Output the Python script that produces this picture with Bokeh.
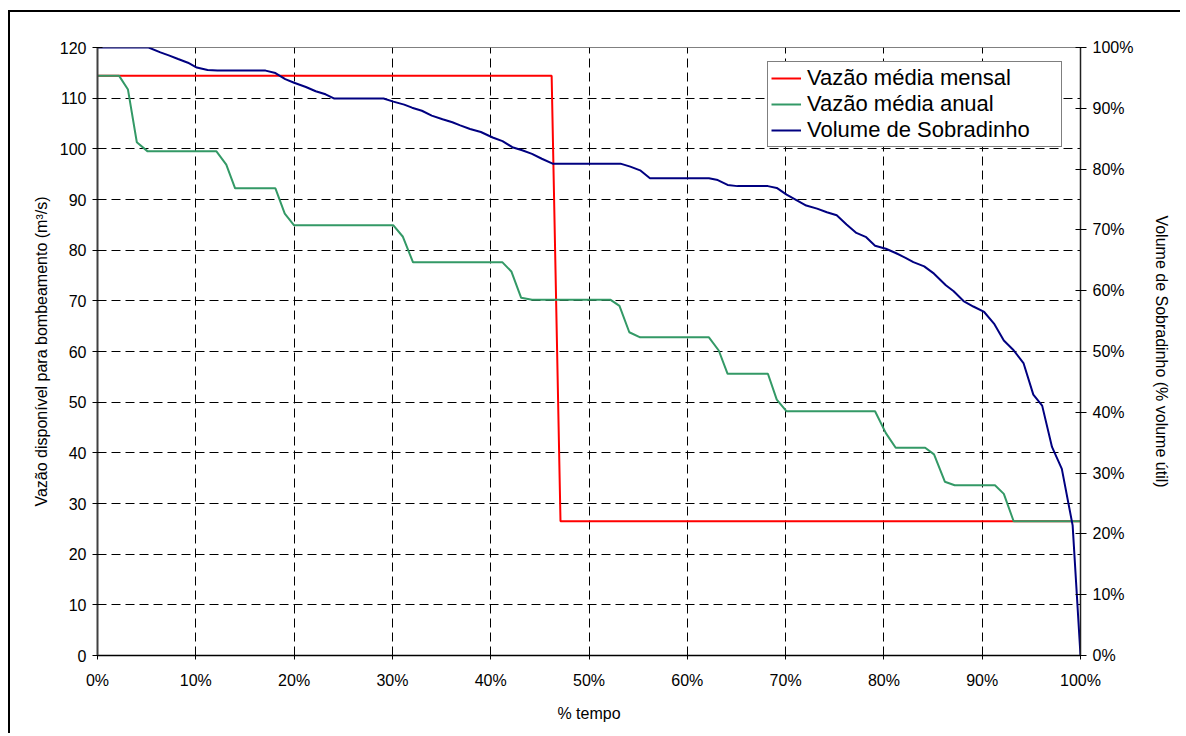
from bokeh.plotting import figure
from bokeh.models import (Range1d, LinearAxis, FixedTicker, PrintfTickFormatter,
                          Legend, LegendItem)
from bokeh.embed import file_html
from bokeh.resources import INLINE

# ---- data ----
tempo_mensal = [0, 46.2, 47.1, 100]
vazao_mensal = [114.4, 114.4, 26.5, 26.5]

tempo_anual = [0, 2.2, 3.1, 4.0, 5.1, 12.1, 13.1, 14.0, 18.1, 19.05,
               20.0, 30.1, 31.05, 32.1, 41.2, 42.1, 43.1, 44.2, 52.2, 53.1,
               54.1, 55.2, 62.2, 63.2, 64.1, 68.2, 69.1, 70.1, 79.1, 80.2,
               81.2, 84.2, 85.1, 86.2, 87.2, 91.3, 92.2, 93.2, 100]
vazao_anual = [114.4, 114.4, 111.7, 101.3, 99.5, 99.5, 96.9, 92.2, 92.2, 87.2,
               84.9, 84.9, 82.7, 77.6, 77.6, 75.8, 70.6, 70.2, 70.2, 69.0,
               63.8, 62.8, 62.8, 60.2, 55.6, 55.6, 50.5, 48.2, 48.2, 43.9,
               41.0, 41.0, 39.7, 34.3, 33.6, 33.6, 31.9, 26.5, 26.5]

tempo_volume = [0, 5.2, 6.4, 7.25, 8.2, 9.2, 10.1, 11.2, 12.2, 17.1,
                18.1, 19.1, 20.0, 21.2, 22.2, 23.2, 24.1, 29.1, 30.1, 31.2,
                32.0, 33.0, 34.0, 35.1, 36.1, 36.9, 37.9, 39.0, 40.2, 41.2,
                42.2, 43.2, 44.2, 45.2, 46.3, 53.2, 54.2, 55.2, 56.2, 62.2,
                63.1, 64.1, 65.1, 68.2, 69.1, 70.1, 71.1, 72.1, 73.2, 74.2,
                75.2, 76.2, 77.2, 78.2, 79.1, 80.2, 81.2, 82.2, 83.0, 84.1,
                85.1, 86.3, 87.1, 88.1, 89.1, 90.2, 91.2, 92.2, 93.2, 94.2,
                95.2, 96.1, 97.1, 98.1, 99.2, 100]
volume = [100, 100, 99.2, 98.7, 98.1, 97.5, 96.7, 96.3, 96.2, 96.2,
          95.8, 94.8, 94.2, 93.5, 92.8, 92.3, 91.6, 91.6, 91.1, 90.6,
          90.1, 89.6, 88.8, 88.2, 87.7, 87.2, 86.6, 86.1, 85.2, 84.6,
          83.6, 83.1, 82.5, 81.7, 80.9, 80.9, 80.4, 79.8, 78.5, 78.5,
          78.2, 77.4, 77.2, 77.2, 76.9, 75.8, 74.9, 74.0, 73.5, 72.9,
          72.4, 70.9, 69.5, 68.8, 67.4, 66.9, 66.2, 65.4, 64.7, 64.0,
          62.8, 60.9, 59.9, 58.3, 57.4, 56.5, 54.6, 51.8, 50.2, 48.1,
          42.9, 41.1, 34.3, 30.7, 21.4, 0]

x_ticks = list(range(0, 101, 10))
y_ticks = list(range(0, 121, 10))
y2_ticks = list(range(0, 101, 10))

labels = ["Vazão média mensal", "Vazão média anual", "Volume de Sobradinho"]
colors = ["#FF0000", "#339966", "#000080"]

FONT = "Liberation Sans"

p = figure(frame_width=983, frame_height=608,
           x_range=Range1d(0, 100), y_range=Range1d(0, 120),
           output_backend="svg", toolbar_location=None,
           min_border_left=87, min_border_top=35,
           min_border_right=100, min_border_bottom=78,
           background_fill_color="white", border_fill_color="white")
p.styles = {"margin-left": "8px", "margin-top": "10px",
            "border-left": "2px solid black", "border-top": "2px solid black"}

p.extra_y_ranges = {"vol": Range1d(0, 100)}

p.outline_line_color = "#808080"
p.outline_line_width = 1

# axes styling
p.xaxis.ticker = FixedTicker(ticks=x_ticks)
p.xaxis.formatter = PrintfTickFormatter(format="%d%%")
p.yaxis.ticker = FixedTicker(ticks=y_ticks)

for ax in (p.xaxis[0], p.yaxis[0]):
    ax.major_label_text_font = FONT
    ax.major_label_text_font_size = "16px"
    ax.major_label_text_color = "black"
    ax.axis_label_text_font = FONT
    ax.axis_label_text_font_size = "16px"
    ax.axis_label_text_font_style = "normal"
    ax.axis_label_text_color = "black"
    ax.minor_tick_line_color = None
    ax.major_tick_line_color = "black"

p.xaxis.axis_label = "% tempo"
p.xaxis.axis_line_color = "black"
p.xaxis.axis_line_width = 1.5
p.xaxis.major_tick_in = 4
p.xaxis.major_tick_out = 4
p.xaxis.major_label_standoff = 12
p.xaxis.axis_label_standoff = 13

p.yaxis.axis_label = "Vazão disponível para bombeamento (m³/s)"
p.yaxis.axis_line_color = "#404040"
p.yaxis.axis_line_width = 2
p.yaxis.major_tick_in = 5
p.yaxis.major_tick_out = 5
p.yaxis.major_label_standoff = 6
p.yaxis.axis_label_standoff = 7

ax2 = LinearAxis(y_range_name="vol", ticker=FixedTicker(ticks=y2_ticks),
                 formatter=PrintfTickFormatter(format="%d%%"),
                 axis_label="Volume de Sobradinho (% volume útil)")
ax2.major_label_text_font = FONT
ax2.major_label_text_font_size = "16px"
ax2.major_label_text_color = "black"
ax2.axis_label_text_font = FONT
ax2.axis_label_text_font_size = "16px"
ax2.axis_label_text_font_style = "normal"
ax2.axis_label_text_color = "black"
ax2.minor_tick_line_color = None
ax2.major_tick_line_color = "black"
ax2.axis_line_color = "#202020"
ax2.axis_line_width = 1.5
ax2.major_tick_in = 5
ax2.major_tick_out = 6
ax2.major_label_standoff = 6
ax2.axis_label_standoff = 17
p.add_layout(ax2, "right")

# grids
p.xgrid.ticker = FixedTicker(ticks=x_ticks)
p.ygrid.ticker = FixedTicker(ticks=y_ticks)
for g in (p.xgrid[0], p.ygrid[0]):
    g.grid_line_color = "black"
    g.grid_line_dash = "9 5"
    g.grid_line_width = 1

# lines
r1 = p.line(tempo_mensal, vazao_mensal, line_color=colors[0], line_width=2)
r2 = p.line(tempo_anual, vazao_anual, line_color=colors[1], line_width=2)
r3 = p.line(tempo_volume, volume, line_color=colors[2], line_width=2,
            y_range_name="vol")

legend = Legend(items=[LegendItem(label=labels[0], renderers=[r1]),
                       LegendItem(label=labels[1], renderers=[r2]),
                       LegendItem(label=labels[2], renderers=[r3])],
                location=(670, 508),
                label_text_font=FONT, label_text_font_size="22px",
                label_text_color="black",
                glyph_width=30, glyph_height=18, label_height=20,
                label_width=251,
                label_standoff=6, spacing=-4, padding=3, margin=0,
                border_line_color="black", border_line_width=1,
                background_fill_color="white", background_fill_alpha=1)
p.add_layout(legend)

open("out.html", "w").write(file_html(p, INLINE))
